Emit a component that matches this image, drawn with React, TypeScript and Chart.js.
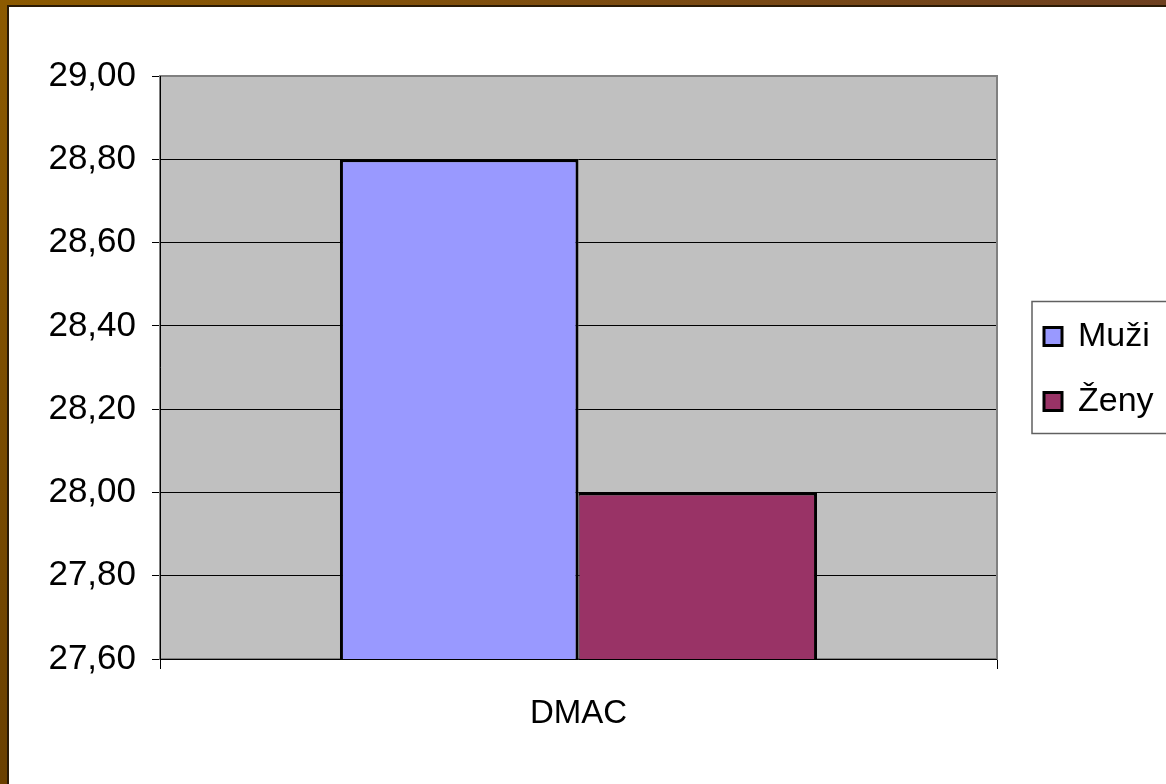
import React, { useEffect, useRef } from "react";
import { Chart, registerables } from "chart.js";

Chart.register(...registerables);

const categories = ["DMAC"];
const seriesNames = ["Muži", "Ženy"];
const muziValues = [28.8];
const zenyValues = [28.0];
const seriesColors = ["#9999ff", "#993366"];
const yMin = 27.6;
const yMax = 29.0;
const yStep = 0.2;

const FONT = '"Liberation Sans", Arial, sans-serif';

const framePlugin = {
  id: "frame",
  beforeDraw(chart: any) {
    const ctx = chart.ctx;
    const W = chart.width;
    const H = chart.height;
    const ca = chart.chartArea;
    ctx.save();
    ctx.fillStyle = "#ffffff";
    ctx.fillRect(0, 0, W, H);
    const gl = ctx.createLinearGradient(0, 0, 0, H);
    gl.addColorStop(0, "#8c5a00");
    gl.addColorStop(1, "#6a4000");
    ctx.fillStyle = gl;
    ctx.fillRect(0, 0, 7, H);
    const gt = ctx.createLinearGradient(0, 0, W, 0);
    gt.addColorStop(0, "#8c5a00");
    gt.addColorStop(1, "#6e4020");
    ctx.fillStyle = gt;
    ctx.fillRect(0, 0, W, 5);
    ctx.fillStyle = "#2a1a05";
    ctx.fillRect(7, 5, 2, H - 5);
    ctx.fillRect(7, 5, W - 7, 2);
    ctx.fillStyle = "#c0c0c0";
    ctx.fillRect(ca.left, ca.top, ca.right - ca.left, ca.bottom - ca.top);
    ctx.restore();
  },
  beforeDatasetsDraw(chart: any) {
    const ctx = chart.ctx;
    const ca = chart.chartArea;
    ctx.save();
    ctx.strokeStyle = "#808080";
    ctx.lineWidth = 2;
    ctx.strokeRect(ca.left, ca.top, ca.right - ca.left, ca.bottom - ca.top);
    ctx.strokeStyle = "#000000";
    ctx.lineWidth = 1;
    ctx.beginPath();
    ctx.moveTo(ca.left + 0.5, ca.top);
    ctx.lineTo(ca.left + 0.5, ca.bottom);
    ctx.moveTo(ca.left, ca.bottom + 0.5);
    ctx.lineTo(ca.right, ca.bottom + 0.5);
    ctx.stroke();
    ctx.restore();
  },
  afterDraw(chart: any) {
    const ctx = chart.ctx;
    const ca = chart.chartArea;
    const cy = (ca.top + ca.bottom) / 2;
    const boxLeft = ca.right + 35;
    const boxTop = cy - 66;
    const boxBottom = cy + 66;
    ctx.save();
    ctx.fillStyle = "#ffffff";
    ctx.fillRect(boxLeft, boxTop, chart.width - boxLeft, boxBottom - boxTop);
    ctx.strokeStyle = "#606060";
    ctx.lineWidth = 1.5;
    ctx.strokeRect(boxLeft, boxTop, chart.width - boxLeft + 5, boxBottom - boxTop);
    const ds = chart.data.datasets;
    ds.forEach((d: any, i: number) => {
      const y = cy - 31 + i * 65;
      ctx.fillStyle = d.backgroundColor;
      ctx.fillRect(boxLeft + 12, y - 9, 18, 18);
      ctx.strokeStyle = "#000000";
      ctx.lineWidth = 3;
      ctx.strokeRect(boxLeft + 12, y - 9, 18, 18);
      ctx.fillStyle = "#000000";
      ctx.font = `34px ${FONT}`;
      ctx.textAlign = "left";
      ctx.textBaseline = "middle";
      ctx.fillText(d.label, boxLeft + 46, y);
    });
    ctx.restore();
  },
};

export default function App() {
  const ref = useRef<HTMLCanvasElement | null>(null);
  useEffect(() => {
    document.body.style.margin = "0";
    const canvas = ref.current!;
    const chart = new Chart(canvas, {
      type: "bar",
      data: {
        labels: categories,
        datasets: [
          {
            label: seriesNames[0],
            data: muziValues,
            backgroundColor: seriesColors[0],
            borderColor: "#000000",
            borderWidth: 3,
            borderSkipped: false,
          },
          {
            label: seriesNames[1],
            data: zenyValues,
            backgroundColor: seriesColors[1],
            borderColor: "#000000",
            borderWidth: { top: 3, right: 3, bottom: 3, left: 1 },
            borderSkipped: false,
          },
        ],
      },
      options: {
        responsive: false,
        animation: false,
        devicePixelRatio: 1,
        layout: { padding: { left: 0, top: 76, right: 169, bottom: 0 } },
        datasets: { bar: { categoryPercentage: 0.57, barPercentage: 1.0 } },
        plugins: {
          legend: { display: false },
          tooltip: { enabled: false },
          title: { display: false },
        },
        scales: {
          x: {
            grid: {
              display: true,
              drawOnChartArea: false,
              drawTicks: true,
              tickLength: 10,
              color: "#000000",
              offset: true,
            },
            border: { display: false },
            ticks: {
              color: "#000000",
              font: { family: FONT, size: 33 },
              padding: 25,
            },
            afterFit(scale: any) {
              scale.height = 125;
            },
          },
          y: {
            min: yMin,
            max: yMax,
            grid: {
              color: "#000000",
              lineWidth: 1,
              tickLength: 8,
              drawTicks: true,
            },
            border: { display: false },
            ticks: {
              stepSize: yStep,
              color: "#000000",
              font: { family: FONT, size: 35 },
              padding: 16,
              callback: (v: any) => Number(v).toFixed(2).replace(".", ","),
            },
            afterFit(scale: any) {
              scale.width = 160;
            },
          },
        },
      },
      plugins: [framePlugin],
    });
    return () => chart.destroy();
  }, []);
  return (
    <canvas
      ref={ref}
      width={1166}
      height={784}
      style={{ display: "block", width: 1166, height: 784 }}
    />
  );
}
